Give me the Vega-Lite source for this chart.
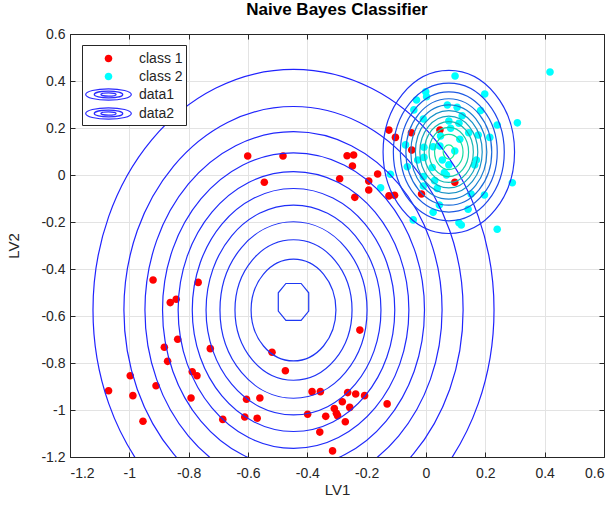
{
  "$schema": "https://vega.github.io/schema/vega-lite/v6.json",
  "width": 534,
  "height": 423,
  "autosize": {"type": "none"},
  "padding": {"left": 70, "top": 34, "right": 12, "bottom": 50},
  "background": "white",
  "title": {"text": "Naive Bayes Classifier", "font": "Liberation Sans", "fontSize": 17, "fontWeight": "bold", "color": "#000000", "anchor": "middle", "offset": 8},
  "config": {
    "view": {"stroke": "#262626", "strokeWidth": 1},
    "axis": {
      "labelFont": "Liberation Sans", "labelFontSize": 14, "labelColor": "#262626",
      "titleFont": "Liberation Sans", "titleFontSize": 15, "titleFontWeight": "normal", "titleColor": "#262626",
      "domainColor": "#262626", "tickColor": "#262626", "gridColor": "#e3e3e3", "gridWidth": 1
    },
    "legend": {
      "orient": "none", "legendX": 12, "legendY": 11, "title": null,
      "symbolSize": 361, "padding": 3, "rowPadding": 0, "symbolOffset": 13, "labelOffset": 20,
      "labelFont": "Liberation Sans", "labelFontSize": 14, "labelColor": "#262626",
      "strokeColor": "#262626", "fillColor": "#ffffff", "symbolStrokeWidth": 1.2, "symbolOpacity": 1
    }
  },
  "datasets": {
    "pts": [
      {"x": -0.920, "y": -0.447, "s": "class 1"}, {"x": -0.768, "y": -0.457, "s": "class 1"},
      {"x": -0.862, "y": -0.543, "s": "class 1"}, {"x": -0.842, "y": -0.529, "s": "class 1"},
      {"x": -0.837, "y": -0.699, "s": "class 1"}, {"x": -0.882, "y": -0.733, "s": "class 1"},
      {"x": -0.871, "y": -0.793, "s": "class 1"}, {"x": -0.727, "y": -0.739, "s": "class 1"},
      {"x": -0.997, "y": -0.854, "s": "class 1"}, {"x": -0.788, "y": -0.837, "s": "class 1"},
      {"x": -0.772, "y": -0.854, "s": "class 1"}, {"x": -1.070, "y": -0.918, "s": "class 1"},
      {"x": -0.910, "y": -0.897, "s": "class 1"}, {"x": -0.988, "y": -0.939, "s": "class 1"},
      {"x": -0.792, "y": -0.949, "s": "class 1"}, {"x": -0.954, "y": -1.048, "s": "class 1"},
      {"x": -0.685, "y": -1.040, "s": "class 1"}, {"x": -0.605, "y": -0.954, "s": "class 1"},
      {"x": -0.560, "y": -0.949, "s": "class 1"}, {"x": -0.611, "y": -1.030, "s": "class 1"},
      {"x": -0.569, "y": -1.035, "s": "class 1"}, {"x": -0.223, "y": -0.660, "s": "class 1"},
      {"x": -0.519, "y": -0.754, "s": "class 1"}, {"x": -0.474, "y": -0.833, "s": "class 1"},
      {"x": -0.384, "y": -0.922, "s": "class 1"}, {"x": -0.356, "y": -0.922, "s": "class 1"},
      {"x": -0.264, "y": -0.926, "s": "class 1"}, {"x": -0.237, "y": -0.932, "s": "class 1"},
      {"x": -0.207, "y": -0.939, "s": "class 1"}, {"x": -0.282, "y": -0.965, "s": "class 1"},
      {"x": -0.131, "y": -0.974, "s": "class 1"}, {"x": -0.257, "y": -0.989, "s": "class 1"},
      {"x": -0.309, "y": -0.994, "s": "class 1"}, {"x": -0.302, "y": -1.014, "s": "class 1"},
      {"x": -0.298, "y": -1.024, "s": "class 1"}, {"x": -0.399, "y": -1.018, "s": "class 1"},
      {"x": -0.338, "y": -1.027, "s": "class 1"}, {"x": -0.272, "y": -1.050, "s": "class 1"},
      {"x": -0.358, "y": -1.094, "s": "class 1"}, {"x": -0.315, "y": -1.174, "s": "class 1"},
      {"x": -0.601, "y": 0.081, "s": "class 1"}, {"x": -0.482, "y": 0.081, "s": "class 1"},
      {"x": -0.266, "y": 0.082, "s": "class 1"}, {"x": -0.244, "y": 0.085, "s": "class 1"},
      {"x": -0.248, "y": 0.038, "s": "class 1"}, {"x": -0.291, "y": -0.016, "s": "class 1"},
      {"x": -0.545, "y": -0.031, "s": "class 1"}, {"x": -0.163, "y": 0.004, "s": "class 1"},
      {"x": -0.193, "y": -0.026, "s": "class 1"}, {"x": -0.193, "y": -0.064, "s": "class 1"},
      {"x": -0.240, "y": -0.095, "s": "class 1"}, {"x": -0.125, "y": 0.191, "s": "class 1"},
      {"x": -0.103, "y": 0.160, "s": "class 1"}, {"x": -0.049, "y": 0.180, "s": "class 1"},
      {"x": 0.047, "y": 0.191, "s": "class 1"}, {"x": -0.048, "y": 0.106, "s": "class 1"},
      {"x": -0.125, "y": -0.089, "s": "class 1"}, {"x": -0.106, "y": -0.086, "s": "class 1"},
      {"x": -0.015, "y": -0.081, "s": "class 1"}, {"x": 0.097, "y": -0.031, "s": "class 1"},
      {"x": 0.418, "y": 0.438, "s": "class 2"}, {"x": 0.098, "y": 0.421, "s": "class 2"},
      {"x": -0.001, "y": 0.354, "s": "class 2"}, {"x": 0.002, "y": 0.333, "s": "class 2"},
      {"x": 0.198, "y": 0.345, "s": "class 2"}, {"x": -0.032, "y": 0.319, "s": "class 2"},
      {"x": -0.041, "y": 0.277, "s": "class 2"}, {"x": 0.072, "y": 0.298, "s": "class 2"},
      {"x": 0.105, "y": 0.288, "s": "class 2"}, {"x": 0.184, "y": 0.274, "s": "class 2"},
      {"x": -0.009, "y": 0.238, "s": "class 2"}, {"x": 0.122, "y": 0.252, "s": "class 2"},
      {"x": 0.077, "y": 0.230, "s": "class 2"}, {"x": 0.111, "y": 0.220, "s": "class 2"},
      {"x": 0.308, "y": 0.222, "s": "class 2"}, {"x": 0.240, "y": 0.213, "s": "class 2"},
      {"x": 0.083, "y": 0.199, "s": "class 2"}, {"x": 0.049, "y": 0.166, "s": "class 2"},
      {"x": 0.144, "y": 0.180, "s": "class 2"}, {"x": 0.176, "y": 0.170, "s": "class 2"},
      {"x": 0.215, "y": 0.160, "s": "class 2"}, {"x": -0.069, "y": 0.128, "s": "class 2"},
      {"x": 0.114, "y": 0.152, "s": "class 2"}, {"x": -0.007, "y": 0.118, "s": "class 2"},
      {"x": 0.024, "y": 0.120, "s": "class 2"}, {"x": 0.047, "y": 0.123, "s": "class 2"},
      {"x": 0.097, "y": 0.102, "s": "class 2"}, {"x": -0.028, "y": 0.064, "s": "class 2"},
      {"x": -0.007, "y": 0.075, "s": "class 2"}, {"x": 0.055, "y": 0.064, "s": "class 2"},
      {"x": 0.077, "y": 0.043, "s": "class 2"}, {"x": 0.170, "y": 0.064, "s": "class 2"},
      {"x": 0.164, "y": 0.043, "s": "class 2"}, {"x": -0.063, "y": 0.035, "s": "class 2"},
      {"x": 0.021, "y": 0.032, "s": "class 2"}, {"x": 0.062, "y": 0.010, "s": "class 2"},
      {"x": 0.069, "y": 0.000, "s": "class 2"}, {"x": -0.120, "y": 0.003, "s": "class 2"},
      {"x": -0.009, "y": -0.007, "s": "class 2"}, {"x": 0.029, "y": -0.024, "s": "class 2"},
      {"x": -0.153, "y": -0.054, "s": "class 2"}, {"x": 0.291, "y": -0.033, "s": "class 2"},
      {"x": -0.009, "y": -0.047, "s": "class 2"}, {"x": 0.038, "y": -0.057, "s": "class 2"},
      {"x": 0.152, "y": -0.081, "s": "class 2"}, {"x": 0.197, "y": -0.085, "s": "class 2"},
      {"x": 0.045, "y": -0.128, "s": "class 2"}, {"x": 0.142, "y": -0.146, "s": "class 2"},
      {"x": 0.024, "y": -0.159, "s": "class 2"}, {"x": -0.043, "y": -0.191, "s": "class 2"},
      {"x": 0.111, "y": -0.203, "s": "class 2"}, {"x": 0.119, "y": -0.213, "s": "class 2"},
      {"x": 0.240, "y": -0.231, "s": "class 2"}
    ],
    "contours": [
      {"cls": "data1", "k": 1, "level": 0.101, "cx": -0.4466, "cy": -0.5745, "ax": 0.6759},
      {"cls": "data1", "k": 2, "level": 0.202, "cx": -0.4466, "cy": -0.5745, "ax": 0.5717},
      {"cls": "data1", "k": 3, "level": 0.303, "cx": -0.4466, "cy": -0.5745, "ax": 0.5008},
      {"cls": "data1", "k": 4, "level": 0.404, "cx": -0.4466, "cy": -0.5745, "ax": 0.4415},
      {"cls": "data1", "k": 5, "level": 0.505, "cx": -0.4466, "cy": -0.5745, "ax": 0.3889},
      {"cls": "data1", "k": 6, "level": 0.605, "cx": -0.4466, "cy": -0.5745, "ax": 0.3413},
      {"cls": "data1", "k": 7, "level": 0.706, "cx": -0.4466, "cy": -0.5745, "ax": 0.2948},
      {"cls": "data1", "k": 8, "level": 0.807, "cx": -0.4466, "cy": -0.5745, "ax": 0.2479},
      {"cls": "data1", "k": 9, "level": 0.908, "cx": -0.4466, "cy": -0.5745, "ax": 0.1973},
      {"cls": "data1", "k": 10, "level": 1.009, "cx": -0.4466, "cy": -0.5745, "ax": 0.1430},
      {"cls": "data1", "k": 11, "level": 1.110, "cx": -0.4466, "cy": -0.540, "ax": 0.0513},
      {"cls": "data2", "k": 1, "level": 0.893, "cx": 0.0769, "cy": 0.0979, "ax": 0.2216},
      {"cls": "data2", "k": 2, "level": 1.786, "cx": 0.0769, "cy": 0.0979, "ax": 0.1870},
      {"cls": "data2", "k": 3, "level": 2.679, "cx": 0.0769, "cy": 0.0979, "ax": 0.1633},
      {"cls": "data2", "k": 4, "level": 3.571, "cx": 0.0769, "cy": 0.0979, "ax": 0.1447},
      {"cls": "data2", "k": 5, "level": 4.464, "cx": 0.0769, "cy": 0.0979, "ax": 0.1281},
      {"cls": "data2", "k": 6, "level": 5.357, "cx": 0.0769, "cy": 0.0979, "ax": 0.1126},
      {"cls": "data2", "k": 7, "level": 6.250, "cx": 0.0769, "cy": 0.0979, "ax": 0.0977},
      {"cls": "data2", "k": 8, "level": 7.143, "cx": 0.0769, "cy": 0.0979, "ax": 0.0827},
      {"cls": "data2", "k": 9, "level": 8.036, "cx": 0.0769, "cy": 0.0979, "ax": 0.0667},
      {"cls": "data2", "k": 10, "level": 8.929, "cx": 0.0769, "cy": 0.0979, "ax": 0.0480},
      {"cls": "data2", "k": 11, "level": 9.821, "cx": 0.0769, "cy": 0.0979, "ax": 0.0191}
    ]
  },
  "resolve": {"axis": {"x": "independent", "y": "independent"}},
  "layer": [
    {
      "data": {"name": "pts"},
      "mark": {"type": "point", "filled": true, "size": 361, "opacity": 1, "strokeWidth": 1.2, "clip": true},
      "encoding": {
        "x": {"field": "x", "type": "quantitative",
          "scale": {"domain": [-1.2, 0.6], "nice": false, "zero": false},
          "axis": {"orient": "bottom", "title": "LV1", "values": [-1.2, -1, -0.8, -0.6, -0.4, -0.2, 0, 0.2, 0.4, 0.6],
            "labelExpr": "'' + datum.value", "grid": true, "tickSize": -5, "labelPadding": 14, "titlePadding": 2, "domain": true}},
        "y": {"field": "y", "type": "quantitative",
          "scale": {"domain": [-1.2, 0.6], "nice": false, "zero": false},
          "axis": {"orient": "left", "title": "LV2", "values": [-1.2, -1, -0.8, -0.6, -0.4, -0.2, 0, 0.2, 0.4, 0.6],
            "labelExpr": "'' + datum.value", "grid": true, "tickSize": -5, "labelPadding": 10, "titlePadding": 19, "domain": true}},
        "fill": {"field": "s", "type": "nominal",
          "scale": {"domain": ["class 1", "class 2", "data1", "data2"], "range": ["#ff0000", "#00ffff", "transparent", "transparent"]}},
        "stroke": {"field": "s", "type": "nominal",
          "scale": {"domain": ["class 1", "class 2", "data1", "data2"], "range": ["transparent", "transparent", "#2a2aff", "#2a2aff"]}},
        "shape": {"field": "s", "type": "nominal",
          "scale": {"domain": ["class 1", "class 2", "data1", "data2"], "range": [
            "M0.4,0C0.4,0.2209 0.2209,0.4 0,0.4C-0.2209,0.4 -0.4,0.2209 -0.4,0C-0.4,-0.2209 -0.2209,-0.4 0,-0.4C0.2209,-0.4 0.4,-0.2209 0.4,0Z",
            "M0.4,0C0.4,0.2209 0.2209,0.4 0,0.4C-0.2209,0.4 -0.4,0.2209 -0.4,0C-0.4,-0.2209 -0.2209,-0.4 0,-0.4C0.2209,-0.4 0.4,-0.2209 0.4,0Z",
            "M2.4,0C2.4,0.3314 1.3255,0.6 0,0.6C-1.3255,0.6 -2.4,0.3314 -2.4,0C-2.4,-0.3314 -1.3255,-0.6 0,-0.6C1.3255,-0.6 2.4,-0.3314 2.4,0Z M1.5,0C1.5,0.1933 0.8285,0.35 0,0.35C-0.8285,0.35 -1.5,0.1933 -1.5,0C-1.5,-0.1933 -0.8285,-0.35 0,-0.35C0.8285,-0.35 1.5,-0.1933 1.5,0Z M0.8,0C0.8,0.0994 0.4418,0.18 0,0.18C-0.4418,0.18 -0.8,0.0994 -0.8,0C-0.8,-0.0994 -0.4418,-0.18 0,-0.18C0.4418,-0.18 0.8,-0.0994 0.8,0Z",
            "M2.4,0C2.4,0.3314 1.3255,0.6 0,0.6C-1.3255,0.6 -2.4,0.3314 -2.4,0C-2.4,-0.3314 -1.3255,-0.6 0,-0.6C1.3255,-0.6 2.4,-0.3314 2.4,0Z M1.5,0C1.5,0.1933 0.8285,0.35 0,0.35C-0.8285,0.35 -1.5,0.1933 -1.5,0C-1.5,-0.1933 -0.8285,-0.35 0,-0.35C0.8285,-0.35 1.5,-0.1933 1.5,0Z M0.8,0C0.8,0.0994 0.4418,0.18 0,0.18C-0.4418,0.18 -0.8,0.0994 -0.8,0C-0.8,-0.0994 -0.4418,-0.18 0,-0.18C0.4418,-0.18 0.8,-0.0994 0.8,0Z"
          ]}}
      }
    },
    {
      "data": {"name": "contours"},
      "transform": [{"filter": "datum.cls === 'data1' && datum.k <= 10"}],
      "mark": {"type": "point", "filled": false, "opacity": 1, "strokeWidth": 1.2, "clip": true,
        "shape": "M1,0C1,0.6628 0.5523,1.2 0,1.2C-0.5523,1.2 -1,0.6628 -1,0C-1,-0.6628 -0.5523,-1.2 0,-1.2C0.5523,-1.2 1,-0.6628 1,0Z"},
      "encoding": {
        "x": {"field": "cx", "type": "quantitative", "axis": {"orient": "top", "title": null, "labels": false, "grid": false, "tickSize": -5, "values": [-1.2, -1, -0.8, -0.6, -0.4, -0.2, 0, 0.2, 0.4, 0.6]}},
        "y": {"field": "cy", "type": "quantitative", "axis": {"orient": "right", "title": null, "labels": false, "grid": false, "tickSize": -5, "values": [-1.2, -1, -0.8, -0.6, -0.4, -0.2, 0, 0.2, 0.4, 0.6]}},
        "size": {"field": "ax", "type": "quantitative", "scale": {"type": "pow", "exponent": 2, "domain": [0, 1], "range": [0, 352044]}, "legend": null},
        "color": {"field": "level", "type": "quantitative", "scale": {"domain": [0, 10.5], "range": ["#2020ff", "#10ff90"], "interpolate": "rgb"}, "legend": null}
      }
    },
    {
      "data": {"name": "contours"},
      "transform": [{"filter": "datum.cls === 'data1' && datum.k === 11"}],
      "mark": {"type": "point", "filled": false, "opacity": 1, "strokeWidth": 1.2, "clip": true,
        "shape": "M-0.5,-1.21L0.5,-1.21L1,-0.6L1,0.6L0.5,1.21L-0.5,1.21L-1,0.6L-1,-0.6Z"},
      "encoding": {
        "x": {"field": "cx", "type": "quantitative", "axis": null},
        "y": {"field": "cy", "type": "quantitative", "axis": null},
        "size": {"field": "ax", "type": "quantitative", "legend": null},
        "color": {"field": "level", "type": "quantitative", "legend": null}
      }
    },
    {
      "data": {"name": "contours"},
      "transform": [{"filter": "datum.cls === 'data2'"}],
      "mark": {"type": "point", "filled": false, "opacity": 1, "strokeWidth": 1.2, "clip": true,
        "shape": "M1,0C1,0.6849 0.5523,1.24 0,1.24C-0.5523,1.24 -1,0.6849 -1,0C-1,-0.6849 -0.5523,-1.24 0,-1.24C0.5523,-1.24 1,-0.6849 1,0Z"},
      "encoding": {
        "x": {"field": "cx", "type": "quantitative", "axis": null},
        "y": {"field": "cy", "type": "quantitative", "axis": null},
        "size": {"field": "ax", "type": "quantitative", "legend": null},
        "color": {"field": "level", "type": "quantitative", "legend": null}
      }
    }
  ]
}
